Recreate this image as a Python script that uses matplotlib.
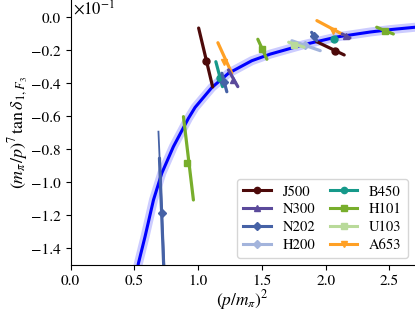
import numpy as np
import matplotlib.pyplot as plt
from matplotlib.lines import Line2D

plt.rcParams.update({
    "font.family": "STIXGeneral",
    "mathtext.fontset": "stix",
    "font.size": 11,
})

# values on the y axis are in units of 1e-1
ensembles = ["J500", "N300", "N202", "H200", "B450", "H101", "U103", "A653"]
colors = ["#4d0a0a", "#5b4a9b", "#4662a6", "#a3b4dc",
          "#16998a", "#78ae2c", "#b9da9a", "#ffa024"]
markers = ["o", "^", "D", "D", "o", "s", "s", "v"]

# data points: ensemble, centre, and the two ends of the (correlated) error segment
pt_ens = ["J500", "J500", "A653", "A653", "B450", "B450", "N202", "N202", "N202",
          "N300", "N300", "H101", "H101", "H101", "H200", "U103"]
pt_x = [1.060, 2.075, 1.206, 2.061, 1.173, 2.067, 1.206, 1.905, 0.715,
        1.277, 2.161, 1.504, 2.467, 0.915, 1.840, 1.748]
pt_y = [-0.265, -0.201, -0.268, -0.080, -0.368, -0.132, -0.389, -0.112, -1.187,
        -0.379, -0.112, -0.193, -0.080, -0.880, -0.167, -0.167]
seg_x0 = [1.004, 1.930, 1.155, 1.931, 1.139, 2.060, 1.186, 1.890, 0.697,
          1.238, 2.130, 1.468, 2.400, 0.885, 1.735, 1.710]
seg_y0 = [-0.064, -0.147, -0.153, -0.019, -0.268, -0.128, -0.338, -0.090, -0.853,
          -0.318, -0.100, -0.132, -0.059, -0.601, -0.141, -0.150]
seg_x1 = [1.114, 2.145, 1.264, 2.127, 1.191, 2.074, 1.225, 1.930, 0.735,
          1.311, 2.190, 1.539, 2.530, 0.963, 1.957, 1.830]
seg_y1 = [-0.421, -0.227, -0.338, -0.100, -0.419, -0.136, -0.450, -0.140, -1.600,
          -0.419, -0.124, -0.253, -0.100, -1.106, -0.201, -0.180]
# extra thin (outer) error segment for the N202 low point
thin_x = [0.689, 0.740]
thin_y = [-0.692, -1.600]

# fitted curve
curve_x = [0.50, 0.532, 0.584, 0.650, 0.715, 0.806, 0.924, 0.976, 1.107, 1.238,
           1.421, 1.565, 1.826, 2.088, 2.349, 2.50, 2.702]
curve_y = [-1.62, -1.49, -1.328, -1.106, -0.944, -0.783, -0.611, -0.545, -0.425,
           -0.338, -0.262, -0.222, -0.165, -0.118, -0.088, -0.074, -0.059]

fig = plt.figure(figsize=(4.15, 3.11), dpi=100)
ax = fig.add_axes([0.17, 0.148, 0.83, 0.852])

# error band and central fit
ax.plot(curve_x, curve_y, color="blue", lw=6.5, alpha=0.2, solid_capstyle="butt")
ax.plot(curve_x, curve_y, color="blue", lw=2.2)

ax.plot(thin_x, thin_y, color=colors[ensembles.index("N202")], lw=1.3)
for e, x, y, x0, y0, x1, y1 in zip(pt_ens, pt_x, pt_y, seg_x0, seg_y0, seg_x1, seg_y1):
    i = ensembles.index(e)
    ax.plot([x0, x1], [y0, y1], color=colors[i], lw=2.3, solid_capstyle="round")
    ms = 4 if markers[i] == "D" else 5
    ax.plot(x, y, marker=markers[i], color=colors[i], ms=ms, ls="None")

handles = [Line2D([], [], color=c, marker=m, lw=2.2, ms=4.5)
           for c, m in zip(colors, markers)]
ax.legend(handles, ensembles, ncol=2, loc="lower right", fontsize=10.5,
          handlelength=1.9, handletextpad=0.8, columnspacing=1.0,
          borderaxespad=0.5, labelspacing=0.3)

ax.set_xlim(0, 2.7)
ax.set_ylim(-1.5, 0.106)
ax.set_yticks([0.0, -0.2, -0.4, -0.6, -0.8, -1.0, -1.2, -1.4])
ax.set_xticks([0.0, 0.5, 1.0, 1.5, 2.0, 2.5])
ax.yaxis.set_major_formatter(plt.FuncFormatter(lambda v, p: f"{v:.1f}".replace("-", "\u2212")))
ax.spines["top"].set_visible(False)
ax.spines["right"].set_visible(False)
ax.text(0.006, 0.997, r"$\times10^{-1}$", transform=ax.transAxes, ha="left", va="top", fontsize=12)

ax.set_xlabel(r"$(p/m_\pi)^2$", fontsize=12.5, labelpad=0)
ax.set_ylabel(r"$(m_\pi/p)^7\,\tan\delta_{1,F_3}$", fontsize=13, labelpad=1)

fig.savefig("out.png", dpi=100)
